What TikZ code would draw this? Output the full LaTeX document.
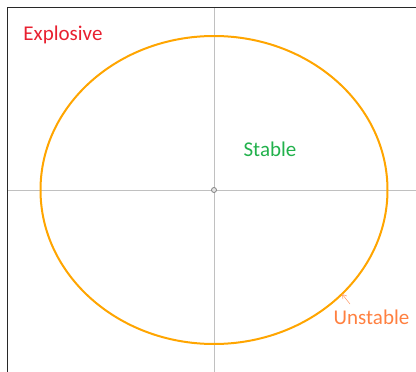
\documentclass[tikz,border=0pt]{standalone}
\usepackage{fontspec}
\setmainfont{Carlito}
\usetikzlibrary{arrows.meta}
\definecolor{ellcol}{RGB}{255,165,0}
\definecolor{axcol}{RGB}{192,192,192}
\definecolor{bordcol}{RGB}{40,40,40}
\definecolor{explcol}{RGB}{232,32,48}
\definecolor{stabcol}{RGB}{34,177,76}
\definecolor{unstcol}{RGB}{255,128,64}
\tikzset{
  lbl/.style={font=\fontsize{21}{24}\selectfont, inner sep=0pt, anchor=base},
  axis/.style={draw=axcol, line width=1pt},
}
\begin{document}
\begin{tikzpicture}[x=1pt,y=-1pt]
\useasboundingbox (0,0) rectangle (416,372);
% axes
\draw[axis] (7.5,190) -- (416,190);
\draw[axis] (214,7.5) -- (214,372);
% border
\draw[draw=bordcol, line width=1.5pt] (7.5,372) -- (7.5,7.5) -- (416,7.5);
% ellipse
\draw[ellcol, line width=2pt] (214,190) ellipse [x radius=173.5, y radius=154];
% origin
\node[circle, draw=gray, fill=axcol!40, line width=0.8pt, minimum size=5pt, inner sep=0pt] (o) at (214,190) {};
% labels
\node[lbl, text=explcol] (expl) at (63,41) {Explosive};
\node[lbl, text=stabcol] (stab) at (270,157) {Stable};
\node[lbl, text=unstcol] (unst) at (371.5,324) {Unstable};
\coordinate (tip) at (342,294);
\coordinate (tail) at (350,304);
\draw[unstcol!70, line width=0.6pt, -{Straight Barb[length=4pt,width=5pt]}] (tail) -- (tip);
\end{tikzpicture}
\end{document}
